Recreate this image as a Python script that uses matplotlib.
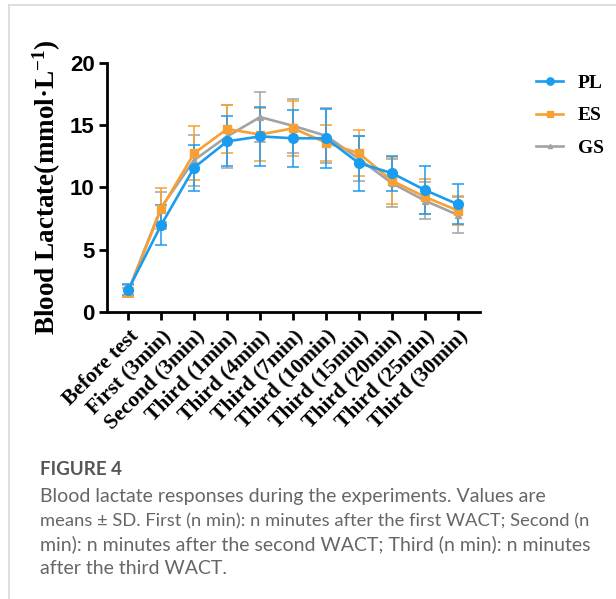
import matplotlib
matplotlib.use("Agg")
import matplotlib.pyplot as plt
from matplotlib.lines import Line2D

# time points
labels = ["Before test", "First (3min)", "Second (3min)", "Third (1min)", "Third (4min)",
          "Third (7min)", "Third (10min)", "Third (15min)", "Third (20min)", "Third (25min)",
          "Third (30min)"]

# means and SD (mmol/L)
pl_mean = [1.8, 7.0, 11.6, 13.7, 14.1, 13.95, 13.95, 11.95, 11.15, 9.8, 8.65]
pl_sd = [0.45, 1.6, 1.85, 2.0, 2.4, 2.3, 2.35, 2.2, 1.4, 1.95, 1.6]
es_mean = [1.6, 8.3, 12.75, 14.7, 14.25, 14.75, 13.6, 12.75, 10.55, 9.25, 8.15]
es_sd = [0.35, 1.65, 2.15, 1.9, 2.15, 2.2, 1.45, 1.85, 1.9, 1.4, 1.15]
gs_mean = [1.7, 8.4, 12.2, 14.1, 15.65, 14.95, 14.15, 12.3, 10.35, 8.95, 7.8]
gs_sd = [0.5, 1.2, 2.05, 2.5, 2.0, 2.15, 2.2, 1.8, 1.9, 1.5, 1.45]

series = [("PL", pl_mean, pl_sd, "#1a9cf0", "o", 7),
          ("ES", es_mean, es_sd, "#f7a033", "s", 6),
          ("GS", gs_mean, gs_sd, "#a3a3a3", "^", 4)]

caption_lines = ["Blood lactate responses during the experiments. Values are",
                 "means ± SD. First (n min): n minutes after the first WACT; Second (n",
                 "min): n minutes after the second WACT; Third (n min): n minutes",
                 "after the third WACT."]

plt.rcParams["mathtext.fontset"] = "custom"
plt.rcParams["mathtext.rm"] = "Liberation Serif:bold"
plt.rcParams["mathtext.bf"] = "Liberation Serif:bold"
plt.rcParams["mathtext.default"] = "bf"

fig = plt.figure(figsize=(6.16, 5.99), dpi=100)
ax = fig.add_axes([0.174, 0.479, 0.605, 0.416])

x = list(range(len(labels)))
for name, m, sd, col, mk, ms in reversed(series):
    ax.errorbar(x, m, yerr=sd, color=col, marker=mk, markersize=ms, lw=1.9,
                elinewidth=1.1, capsize=4, capthick=1.1, label=name)

ax.set_ylim(0, 20)
ax.set_xlim(-0.64, 10.67)
ax.set_yticks([0, 5, 10, 15, 20])
ax.set_xticks(x)
ax.set_xticklabels(labels, rotation=45, ha="right", rotation_mode="anchor",
                   fontfamily="Liberation Serif", fontweight="bold", fontsize=15.5)
for t in ax.get_yticklabels():
    t.set_fontfamily("Liberation Sans")
    t.set_fontweight("bold")
    t.set_fontsize(16)
ax.tick_params(direction="out", length=6, width=2, pad=3)
ax.tick_params(axis="x", pad=4)
for s in ["top", "right"]:
    ax.spines[s].set_visible(False)
for s in ["left", "bottom"]:
    ax.spines[s].set_linewidth(2)
ax.set_ylabel("Blood Lactate(mmol·L$^{-1}$)", fontfamily="Liberation Serif",
              fontweight="bold", fontsize=19.5, labelpad=5)

handles = [Line2D([], [], color=c, marker=mk, markersize=ms * 0.75, lw=1.9)
           for _, _, _, c, mk, ms in series]
fig.legend(handles, [s[0] for s in series], loc="upper left", bbox_to_anchor=(0.870, 0.876),
           frameon=False, handlelength=1.4, handletextpad=0.77, labelspacing=0.77,
           borderpad=0, borderaxespad=0,
           prop={"family": "Liberation Serif", "weight": "bold", "size": 14})

# card border
fig.add_artist(Line2D([9 / 616, 9 / 616], [0, 1 - 5 / 599], color="#d9d9d9", lw=1.2))
fig.add_artist(Line2D([9 / 616, 1], [1 - 5 / 599, 1 - 5 / 599], color="#d9d9d9", lw=1.2))

fig.text(40 / 616, 1 - 475 / 599, "FIGURE 4", fontfamily="Lato", fontweight="bold",
         fontsize=13.5, color="#555555", va="baseline")
for i, line in enumerate(caption_lines):
    size = 13.2 if i == 1 else 14  # justified text squeezes the second line
    fig.text(40 / 616, 1 - (502 + 24 * i) / 599, line, fontfamily="Lato", fontsize=size,
             color="#666666", va="baseline")

fig.savefig("out.png", dpi=100)
